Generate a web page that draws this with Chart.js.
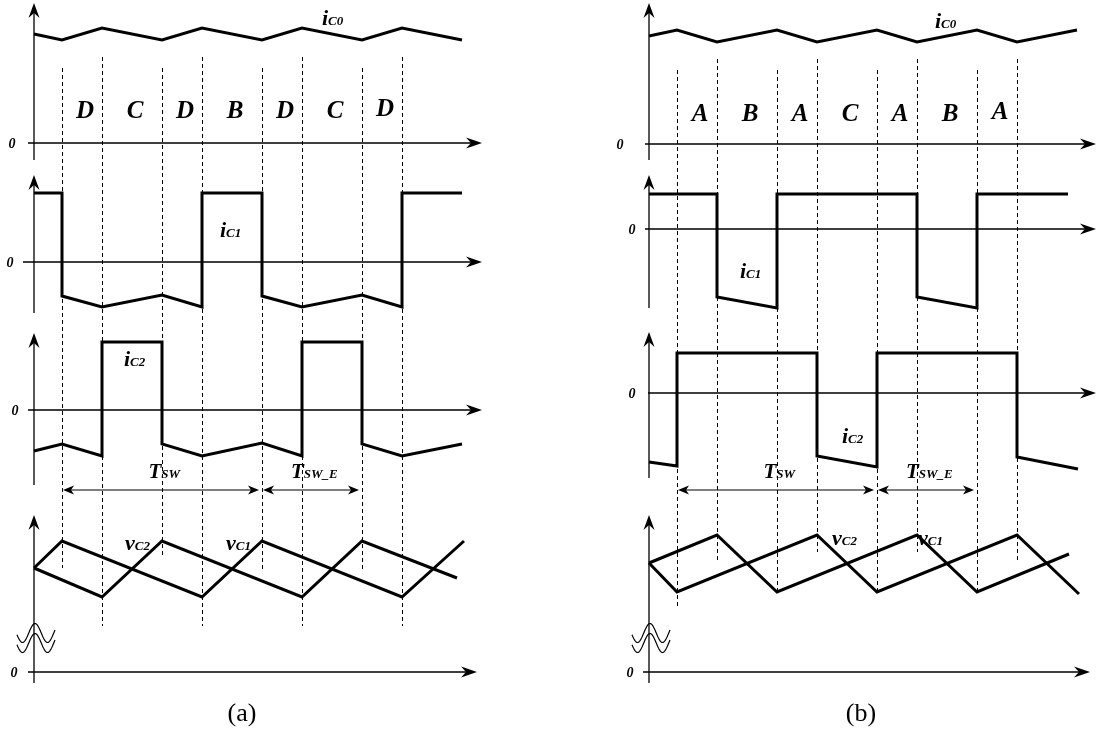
<!DOCTYPE html>
<html>
<head>
<meta charset="utf-8">
<title>Capacitor currents and voltages</title>
<script src="https://cdn.jsdelivr.net/npm/chart.js@4/dist/chart.umd.min.js"></script>
<style>
  html, body { margin: 0; padding: 0; background: #fff; }
  #wrap { width: 1098px; height: 734px; }
</style>
</head>
<body>
<div id="wrap"><canvas id="myChart" width="1098" height="734"></canvas></div>
<script>
// switching instants, same grid in both panels
var edges = [1.4, 3.4, 6.4, 8.4, 11.4, 13.4, 16.4, 18.4];
var stagesA = ['D', 'C', 'D', 'B', 'D', 'C', 'D'];
var stagesB = ['A', 'B', 'A', 'C', 'A', 'B', 'A'];

// panel (a)
var tA_iC0 = [0, 1.4, 3.4, 6.4, 8.4, 11.4, 13.4, 16.4, 18.4, 21.4];
var a_iC0  = [10.9, 10.3, 11.5, 10.3, 11.5, 10.3, 11.5, 10.3, 11.5, 10.3];
var tA_iC1 = [0, 1.4, 1.4, 3.4, 6.4, 8.4, 8.4, 11.4, 11.4, 13.4, 16.4, 18.4, 18.4, 21.4];
var a_iC1  = [6.9, 6.9, -3.4, -4.5, -3.3, -4.5, 6.9, 6.9, -3.4, -4.5, -3.3, -4.5, 6.9, 6.9];
var tA_iC2 = [0, 1.4, 3.4, 3.4, 6.4, 6.4, 8.4, 11.4, 13.4, 13.4, 16.4, 16.4, 18.4, 21.4];
var a_iC2  = [-4.1, -3.4, -4.6, 6.8, 6.8, -3.4, -4.6, -3.3, -4.6, 6.8, 6.8, -3.4, -4.6, -3.4];
var tA_vC1 = [0, 1.4, 8.4, 11.4, 18.4, 21.5];
var a_vC1  = [104, 131, 75, 131, 75, 131];
var tA_vC2 = [0, 3.4, 6.4, 13.4, 16.4, 21.15];
var a_vC2  = [104, 75, 131, 75, 131, 94];

// panel (b)
var tB_iC0 = [0, 1.4, 3.4, 6.4, 8.4, 11.4, 13.4, 16.4, 18.4, 21.4];
var b_iC0  = [10.8, 11.4, 10.2, 11.4, 10.2, 11.4, 10.2, 11.4, 10.2, 11.4];
var tB_iC1 = [0, 3.4, 3.4, 6.4, 6.4, 13.4, 13.4, 16.4, 16.4, 20.95];
var b_iC1  = [3.5, 3.5, -6.8, -7.9, 3.5, 3.5, -6.8, -7.9, 3.5, 3.5];
var tB_iC2 = [0, 1.4, 1.4, 8.4, 8.4, 11.4, 11.4, 18.4, 18.4, 21.45];
var b_iC2  = [-6.9, -7.3, 4.0, 4.0, -6.3, -7.4, 4.0, 4.0, -6.4, -7.6];
var tB_vC1 = [0, 3.4, 6.4, 13.4, 16.4, 21.0];
var b_vC1  = [109, 137, 80, 137, 80, 118];
var tB_vC2 = [0, 1.4, 8.4, 11.4, 18.4, 21.5];
var b_vC2  = [109, 80, 137, 80, 137, 78];

var W = 1098, H = 734, PX_T = 20;
var SERIF = '"Liberation Serif", "DejaVu Serif", serif';

// scale ranges so that the origin of each small plot lands where it should
function xRange(x0) { return { min: -x0 / PX_T, max: (W - x0) / PX_T }; }
function yRange(zero, k) { return { min: (zero - H) / k, max: zero / k }; }

function series(ts, vs, xId, yId) {
  return {
    data: ts.map(function (t, i) { return { x: t, y: vs[i] }; }),
    xAxisID: xId, yAxisID: yId,
    borderColor: '#000', borderWidth: 3, borderJoinStyle: 'miter',
    pointRadius: 0, fill: false, tension: 0, clip: false
  };
}

function scale(axis, pos, r) {
  return { type: 'linear', axis: axis, position: pos, display: false, min: r.min, max: r.max, grid: { display: false } };
}

var panels = [
  {
    x: 'xa', ys: ['ya0', 'ya1', 'ya2', 'ya3'], stages: stagesA, stageY: 112,
    axes: [
      { tip: 3, end: 160, hl: 28, hr: 482, zx: 12 },
      { tip: 175, end: 313, hl: 23, hr: 482, zx: 10 },
      { tip: 333, end: 485, hl: 28, hr: 482, zx: 15 },
      { tip: 515, end: 683, hl: 28, hr: 477, zx: 14 }
    ],
    dashTop: [68, 57, 68, 57, 68, 57, 68, 57],
    dashBottom: [568, 626, 558, 626, 569, 626, 569, 626],
    labels: [
      { y: 'ya0', t: 14.4, v: 11.8, main: 'i', sub: 'C0' },
      { y: 'ya1', t: 9.3, v: 2.5, main: 'i', sub: 'C1' },
      { y: 'ya2', t: 4.5, v: 4.4, main: 'i', sub: 'C2' },
      { y: 'ya3', t: 4.55, v: 122, main: 'v', sub: 'C2' },
      { y: 'ya3', t: 9.6, v: 122, main: 'v', sub: 'C1' }
    ],
    caption: '(a)', capX: 242
  },
  {
    x: 'xb', ys: ['yb0', 'yb1', 'yb2', 'yb3'], stages: stagesB, stageY: 115,
    axes: [
      { tip: 3, end: 160, hl: 645, hr: 1096, zx: 620 },
      { tip: 175, end: 308, hl: 645, hr: 1096, zx: 632 },
      { tip: 332, end: 478, hl: 648, hr: 1096, zx: 632 },
      { tip: 515, end: 683, hl: 643, hr: 1090, zx: 630 }
    ],
    dashTop: [70, 59, 70, 59, 70, 59, 70, 59],
    dashBottom: [608, 563, 592, 552, 592, 552, 592, 563],
    labels: [
      { y: 'yb0', t: 14.3, v: 11.6, main: 'i', sub: 'C0' },
      { y: 'yb1', t: 4.55, v: -4.9, main: 'i', sub: 'C1' },
      { y: 'yb2', t: 9.65, v: -5.0, main: 'i', sub: 'C2' },
      { y: 'yb3', t: 9.15, v: 127, main: 'v', sub: 'C2' },
      { y: 'yb3', t: 13.45, v: 127, main: 'v', sub: 'C1' }
    ],
    caption: '(b)', capX: 861
  }
];

var periods = [
  { from: 1.4, to: 11.4, tText: 5.72, sub: 'SW' },
  { from: 11.4, to: 16.4, tText: 12.85, sub: 'SW_E' }
];

function arrowUp(c, x, y) {
  c.beginPath();
  c.moveTo(x, y); c.lineTo(x - 5.5, y + 15); c.lineTo(x, y + 10); c.lineTo(x + 5.5, y + 15);
  c.closePath(); c.fill();
}
function arrowRight(c, x, y, len, hw, notch) {
  c.beginPath();
  c.moveTo(x, y); c.lineTo(x - len, y - hw); c.lineTo(x - len + notch, y); c.lineTo(x - len, y + hw);
  c.closePath(); c.fill();
}
function arrowLeft(c, x, y, len, hw, notch) {
  c.beginPath();
  c.moveTo(x, y); c.lineTo(x + len, y - hw); c.lineTo(x + len - notch, y); c.lineTo(x + len, y + hw);
  c.closePath(); c.fill();
}

function subText(c, x, y, main, sub, bigPx, smallPx) {
  c.textAlign = 'left';
  c.textBaseline = 'alphabetic';
  c.font = 'italic bold ' + bigPx + 'px ' + SERIF;
  c.fillText(main, x, y);
  var w = c.measureText(main).width;
  c.font = 'italic bold ' + smallPx + 'px ' + SERIF;
  c.fillText(sub, x + w, y);
}

var decor = {
  id: 'decor',
  beforeDatasetsDraw: function (chart) {
    var c = chart.ctx;
    c.save();
    c.fillStyle = '#000';
    c.strokeStyle = '#000';
    panels.forEach(function (p) {
      var xs = chart.scales[p.x];
      var x0 = xs.getPixelForValue(0);

      // dashed switching instants
      c.lineWidth = 1;
      c.setLineDash([4, 3]);
      edges.forEach(function (t, i) {
        var px = Math.round(xs.getPixelForValue(t)) + 0.5;
        c.beginPath();
        c.moveTo(px, p.dashTop[i]);
        c.lineTo(px, p.dashBottom[i]);
        c.stroke();
      });
      c.setLineDash([]);

      // axes with arrow heads
      c.lineWidth = 1.3;
      p.axes.forEach(function (a, k) {
        var zy = chart.scales[p.ys[k]].getPixelForValue(0);
        c.beginPath();
        c.moveTo(x0, a.end); c.lineTo(x0, a.tip + 8);
        c.moveTo(a.hl, zy); c.lineTo(a.hr - 8, zy);
        c.stroke();
        arrowUp(c, x0, a.tip);
        arrowRight(c, a.hr, zy, 16, 5.5, 5);
        c.font = 'italic bold 14px ' + SERIF;
        c.textAlign = 'center';
        c.textBaseline = 'middle';
        c.fillText('0', a.zx, zy + 1);
      });

      // axis break on the voltage plot
      c.lineWidth = 1.2;
      [633, 643].forEach(function (cy) {
        c.beginPath();
        for (var dx = -17; dx <= 21; dx += 0.5) {
          var yy = cy - 9.5 * Math.cos(2 * Math.PI * (dx - 1) / 25);
          if (dx === -17) c.moveTo(x0 + dx, yy); else c.lineTo(x0 + dx, yy);
        }
        c.stroke();
      });

      // switching period arrows
      c.lineWidth = 1.2;
      periods.forEach(function (q) {
        var xa = xs.getPixelForValue(q.from) + 1;
        var xb = xs.getPixelForValue(q.to) - 3;
        c.beginPath();
        c.moveTo(xa + 6, 490); c.lineTo(xb - 6, 490);
        c.stroke();
        arrowLeft(c, xa, 490, 11, 4.5, 3);
        arrowRight(c, xb, 490, 11, 4.5, 3);
      });
    });
    c.restore();
  },
  afterDatasetsDraw: function (chart) {
    var c = chart.ctx;
    c.save();
    c.fillStyle = '#000';
    panels.forEach(function (p) {
      var xs = chart.scales[p.x];

      // stage letters between the dashed lines
      c.font = 'italic bold 25px ' + SERIF;
      c.textAlign = 'center';
      c.textBaseline = 'middle';
      p.stages.forEach(function (s, i) {
        var mid = (edges[i] + edges[i + 1]) / 2;
        c.fillText(s, xs.getPixelForValue(mid) + 3, p.stageY - (i === p.stages.length - 1 ? 2 : 0));
      });

      p.labels.forEach(function (l) {
        subText(c, xs.getPixelForValue(l.t), chart.scales[l.y].getPixelForValue(l.v), l.main, l.sub, 22, 13);
      });

      periods.forEach(function (q) {
        subText(c, xs.getPixelForValue(q.tText), 478, 'T', q.sub, 21, 13);
      });

      c.font = '26px ' + SERIF;
      c.textAlign = 'center';
      c.textBaseline = 'alphabetic';
      c.fillText(p.caption, p.capX, 721);
    });
    c.restore();
  }
};

var ctx = document.getElementById('myChart').getContext('2d');
var myChart = new Chart(ctx, {
  type: 'line',
  data: {
    datasets: [
      series(tA_iC0, a_iC0, 'xa', 'ya0'),
      series(tA_iC1, a_iC1, 'xa', 'ya1'),
      series(tA_iC2, a_iC2, 'xa', 'ya2'),
      series(tA_vC1, a_vC1, 'xa', 'ya3'),
      series(tA_vC2, a_vC2, 'xa', 'ya3'),
      series(tB_iC0, b_iC0, 'xb', 'yb0'),
      series(tB_iC1, b_iC1, 'xb', 'yb1'),
      series(tB_iC2, b_iC2, 'xb', 'yb2'),
      series(tB_vC1, b_vC1, 'xb', 'yb3'),
      series(tB_vC2, b_vC2, 'xb', 'yb3')
    ]
  },
  options: {
    responsive: false,
    animation: false,
    devicePixelRatio: 1,
    layout: { padding: 0 },
    plugins: { legend: { display: false }, tooltip: { enabled: false } },
    scales: {
      xa: scale('x', 'bottom', xRange(34)),
      xb: scale('x', 'bottom', xRange(649)),
      ya0: scale('y', 'left', yRange(143, 10)),
      ya1: scale('y', 'left', yRange(262, 10)),
      ya2: scale('y', 'left', yRange(410, 10)),
      ya3: scale('y', 'left', yRange(672, 1)),
      yb0: scale('y', 'left', yRange(144, 10)),
      yb1: scale('y', 'left', yRange(229, 10)),
      yb2: scale('y', 'left', yRange(393, 10)),
      yb3: scale('y', 'left', yRange(672, 1))
    }
  },
  plugins: [decor]
});
</script>
</body>
</html>
